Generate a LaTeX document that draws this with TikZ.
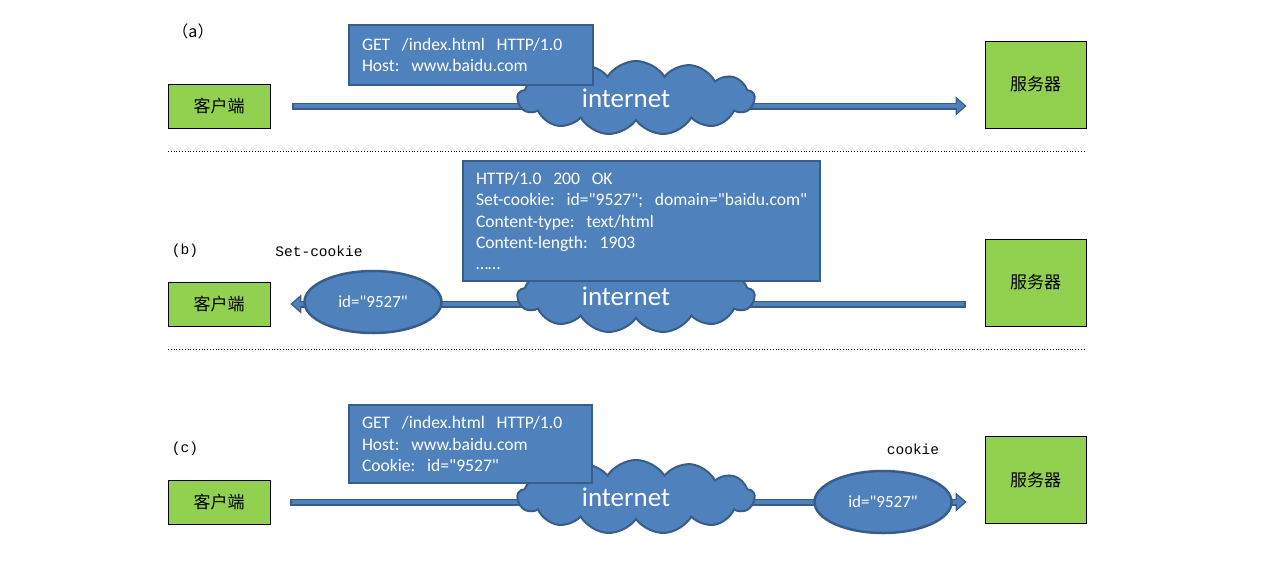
\documentclass[tikz,border=0pt]{standalone}
\usepackage{fontspec}
\setmainfont{Carlito}[Ligatures=TeXOff]
\newfontfamily\cjk{Noto Sans CJK SC}
\newfontfamily\monofnt{Liberation Mono}
\usepackage{tikz}
\usetikzlibrary{positioning, arrows.meta, shapes.geometric, shapes.symbols}
\definecolor{boxblue}{HTML}{4F81BD}
\definecolor{edgeblue}{HTML}{385D8A}
\definecolor{hostgreen}{HTML}{92D050}

\begin{document}
\begin{tikzpicture}[x=1pt, y=-1pt,
  host/.style={draw=black, thick, fill=hostgreen, font=\cjk\fontsize{17}{17}\selectfont},
  client/.style={host, minimum width=102pt, minimum height=44pt},
  server/.style={host, minimum width=101pt, minimum height=87pt},
  pipe/.style={draw=edgeblue, line width=7pt,
    -{Triangle[length=11pt, width=19pt, fill=boxblue, line width=1.2pt]},
    postaction={draw=boxblue, line width=4pt, arrows=-, shorten >=9pt, shorten <=1.2pt}},
  net/.style={cloud, cloud puffs=13, cloud puff arc=115, aspect=3.2, draw=edgeblue, line width=2pt,
    fill=boxblue, text=white, font=\fontsize{27}{27}\selectfont,
    minimum width=237pt, minimum height=74pt, inner sep=0pt},
  msg/.style={draw=edgeblue, line width=2pt, fill=boxblue, text=white, align=left,
    font=\fontsize{17.6}{21.4}\selectfont, inner sep=0pt},
  token/.style={ellipse, draw=edgeblue, line width=2.5pt, fill=boxblue, text=white,
    font=\fontsize{17}{17}\selectfont, minimum width=137pt, minimum height=62pt, inner sep=0pt},
  tag/.style={font=\monofnt\fontsize{14.5}{14.5}\selectfont},
  sep/.style={dotted, thick}]
\useasboundingbox (0,0) rectangle (1267,571);

% (a) request
\node[font=\cjk\fontsize{16}{16}\selectfont] (lab-a) at (193,31) {（a）};
\node[client] (cli-a) at (219,106) {客户端};
\node[server] (srv-a) at (1035.5,84.5) {服务器};
\draw[pipe] ([xshift=22pt]cli-a.east) -- ([xshift=-18pt]srv-a.west |- cli-a.east);
\node[net] (net-a) at (636,98) {internet\kern20pt};
\node[msg, minimum width=244pt, minimum height=60pt, text width=218pt] (req-a) at (471,55)
  {GET~~/index.html~~HTTP/1.0\\Host:~~www.baidu.com};

\draw[sep] (168,151) -- (1086,151);

% (b) response sets the cookie
\node[tag] (lab-b) at (185,251) {(b)};
\node[tag] (set-b) at (319,251) {Set-cookie};
\node[client] (cli-b) at (219,304) {客户端};
\node[server] (srv-b) at (1035.5,282.5) {服务器};
\draw[pipe] ([xshift=-19pt]srv-b.west |- cli-b.east) -- ([xshift=20pt]cli-b.east);
\node[net] (net-b) at (636,296) {internet\kern20pt};
\node[token] (id-b) at (373,302) {id="9527"};
\node[msg, minimum width=357pt, minimum height=120pt, text width=331pt] (resp-b) at (641.5,221)
  {HTTP/1.0~~200~~OK\\\mbox{Set-cookie:~~id="9527";~~domain="baidu.com"}\\Content-type:~~text/html\\Content-length:~~1903\\……};

\draw[sep] (168,349) -- (1086,349);

% (c) request carries the cookie
\node[tag] (lab-c) at (185,449) {(c)};
\node[tag] (ck-c) at (913,449) {cookie};
\node[client] (cli-c) at (219,502) {客户端};
\node[server] (srv-c) at (1035.5,480) {服务器};
\draw[pipe] ([xshift=20pt]cli-c.east) -- ([xshift=-18pt]srv-c.west |- cli-c.east);
\node[net] (net-c) at (636,497) {internet\kern20pt};
\node[token] (id-c) at (883,502) {id="9527"};
\node[msg, minimum width=243pt, minimum height=78pt, text width=217pt] (req-c) at (470.5,444)
  {GET~~/index.html~~HTTP/1.0\\Host:~~www.baidu.com\\Cookie:~~id="9527"};
\end{tikzpicture}
\end{document}
